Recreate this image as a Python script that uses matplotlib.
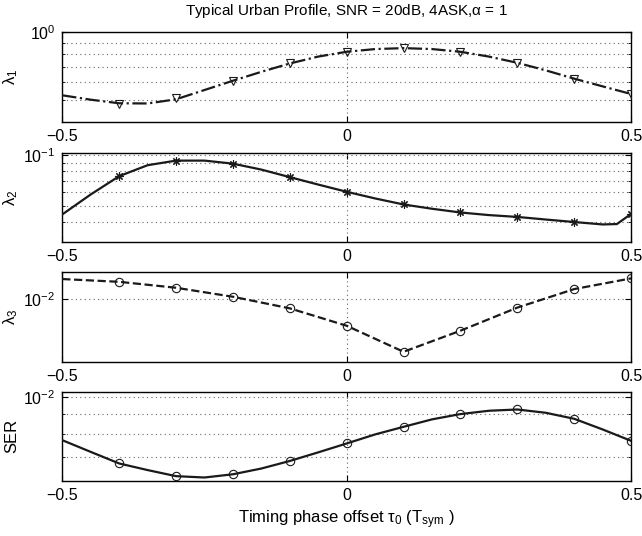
import numpy as np
import matplotlib
matplotlib.use("Agg")
import matplotlib.pyplot as plt
from matplotlib.ticker import FixedLocator, NullFormatter, NullLocator, LogFormatterSciNotation

plt.rcParams['font.family'] = ['Liberation Sans', 'DejaVu Sans']
plt.rcParams['mathtext.fontset'] = 'custom'
plt.rcParams['mathtext.rm'] = 'Liberation Sans'
plt.rcParams['mathtext.it'] = 'Liberation Sans:italic'
plt.rcParams['mathtext.default'] = 'regular'
plt.rcParams['font.size'] = 10

#### datos ####
tau_linea = [-0.5, -0.45, -0.4, -0.35, -0.3, -0.25, -0.2, -0.15, -0.1, -0.05, 0.0,
             0.05, 0.1, 0.15, 0.2, 0.25, 0.3, 0.35, 0.4, 0.45, 0.5]
tau_marcas = [-0.4, -0.3, -0.2, -0.1, 0.0, 0.1, 0.2, 0.3, 0.4, 0.5]

# lambda_1
lam1_linea = [0.526, 0.503, 0.485, 0.484, 0.505, 0.555, 0.610, 0.668, 0.727, 0.780, 0.819,
              0.842, 0.850, 0.842, 0.819, 0.780, 0.732, 0.678, 0.623, 0.576, 0.533]
lam1_marcas = [0.483, 0.510, 0.610, 0.727, 0.819, 0.850, 0.819, 0.732, 0.623, 0.533]

# lambda_2 (tiene un punto extra en 0.475)
tau2_linea = [-0.5, -0.45, -0.4, -0.35, -0.3, -0.25, -0.2, -0.15, -0.1, -0.05, 0.0,
              0.05, 0.1, 0.15, 0.2, 0.25, 0.3, 0.35, 0.4, 0.45, 0.475, 0.5]
lam2_linea = [0.0443, 0.0583, 0.0750, 0.0872, 0.0929, 0.0929, 0.0891, 0.0821, 0.0740, 0.0668,
              0.0605, 0.0552, 0.0508, 0.0479, 0.0455, 0.0439, 0.0428, 0.0413, 0.0399, 0.0386,
              0.0388, 0.0446]
lam2_marcas = [0.0750, 0.0929, 0.0891, 0.0740, 0.0605, 0.0508, 0.0455, 0.0428, 0.0399, 0.0446]

# lambda_3
tau3_linea = [-0.5, -0.4, -0.3, -0.2, -0.1, 0.0, 0.1, 0.2, 0.3, 0.4, 0.5]
lam3_linea = [0.01195, 0.01166, 0.01106, 0.01021, 0.00921, 0.00789, 0.00626, 0.00755,
              0.00927, 0.01093, 0.01202]
lam3_marcas = [0.01166, 0.01106, 0.01021, 0.00921, 0.00789, 0.00626, 0.00755, 0.00927,
               0.01093, 0.01202]

# SER
ser_linea = [0.00772, 0.00720, 0.00672, 0.00646, 0.00623, 0.00618, 0.00630, 0.00652, 0.00682,
             0.00718, 0.00757, 0.00799, 0.00836, 0.00874, 0.00902, 0.00920, 0.00927, 0.00909,
             0.00877, 0.00823, 0.00769]
ser_marcas = [0.00672, 0.00623, 0.00630, 0.00682, 0.00757, 0.00836, 0.00902, 0.00927,
              0.00877, 0.00769]

color = '#1a1a1a'
punteado = (0, (1, 3))

fig = plt.figure(figsize=(6.42, 5.36), dpi=100)

# [izq, abajo, ancho, alto] en fracciones de la figura
posiciones = [
    [0.097, 0.772, 0.886, 0.168],
    [0.097, 0.548, 0.886, 0.167],
    [0.097, 0.324, 0.886, 0.169],
    [0.097, 0.103, 0.886, 0.166],
]

paneles = [
    (tau_linea, lam1_linea, lam1_marcas, '-.', 'v', r'$\lambda_1$', (0.4, 1.0), [1.0],
     [0.5, 0.6, 0.7, 0.8, 0.9]),
    (tau2_linea, lam2_linea, lam2_marcas, '-', (8, 2, 0), r'$\lambda_2$', (0.0302, 0.1035), [0.1],
     [0.04, 0.05, 0.06, 0.07, 0.08, 0.09]),
    (tau3_linea, lam3_linea, lam3_marcas, '--', 'o', r'$\lambda_3$', (0.0057, 0.01275), [0.01],
     []),
    (tau_linea, ser_linea, ser_marcas, '-', 'o', 'SER', (0.00606, 0.0103), [0.01],
     [0.007, 0.008, 0.009]),
]

ejes = []
for pos, (tx, yl, ym, estilo, marca, etiqueta, lim, mayores, menores) in zip(posiciones, paneles):
    ax = fig.add_axes(pos)
    ax.set_yscale('log')
    ax.plot(tx, yl, linestyle=estilo, color=color, lw=1.6, zorder=3)
    ax.plot(tau_marcas, ym, linestyle='none', marker=marca, color=color, mfc='none',
            ms=6, mew=0.8, zorder=4)
    ax.set_xlim(-0.5, 0.5)
    ax.set_ylim(*lim)
    ax.set_xticks([-0.5, 0, 0.5])
    ax.set_xticklabels(['\u22120.5', '0', '0.5'])
    ax.yaxis.set_major_locator(FixedLocator(mayores))
    ax.yaxis.set_major_formatter(LogFormatterSciNotation())
    if menores:
        ax.yaxis.set_minor_locator(FixedLocator(menores))
    else:
        ax.yaxis.set_minor_locator(NullLocator())
    ax.yaxis.set_minor_formatter(NullFormatter())
    ax.grid(True, which='major', linestyle=punteado, color='#666666', lw=0.8)
    ax.grid(True, which='minor', axis='y', linestyle=punteado, color='#666666', lw=0.8)
    ax.tick_params(which='both', direction='in', top=True, right=True, labelsize=11.5, pad=5)
    ax.tick_params(which='major', length=4)
    ax.tick_params(which='minor', length=2)
    for s in ax.spines.values():
        s.set_linewidth(1.0)
    ax.set_ylabel(etiqueta, fontsize=12)
    ax.yaxis.set_label_coords(-0.075, 0.5)
    ejes.append(ax)

ejes[0].set_title(r'Typical Urban Profile, SNR = 20dB, 4ASK,$\alpha$ = 1', fontsize=11, pad=12)
ejes[3].set_xlabel(r'Timing phase offset $\tau_0$ ($T_{sym}$ )', fontsize=12, labelpad=4)

plt.savefig('out.png', dpi=100)
